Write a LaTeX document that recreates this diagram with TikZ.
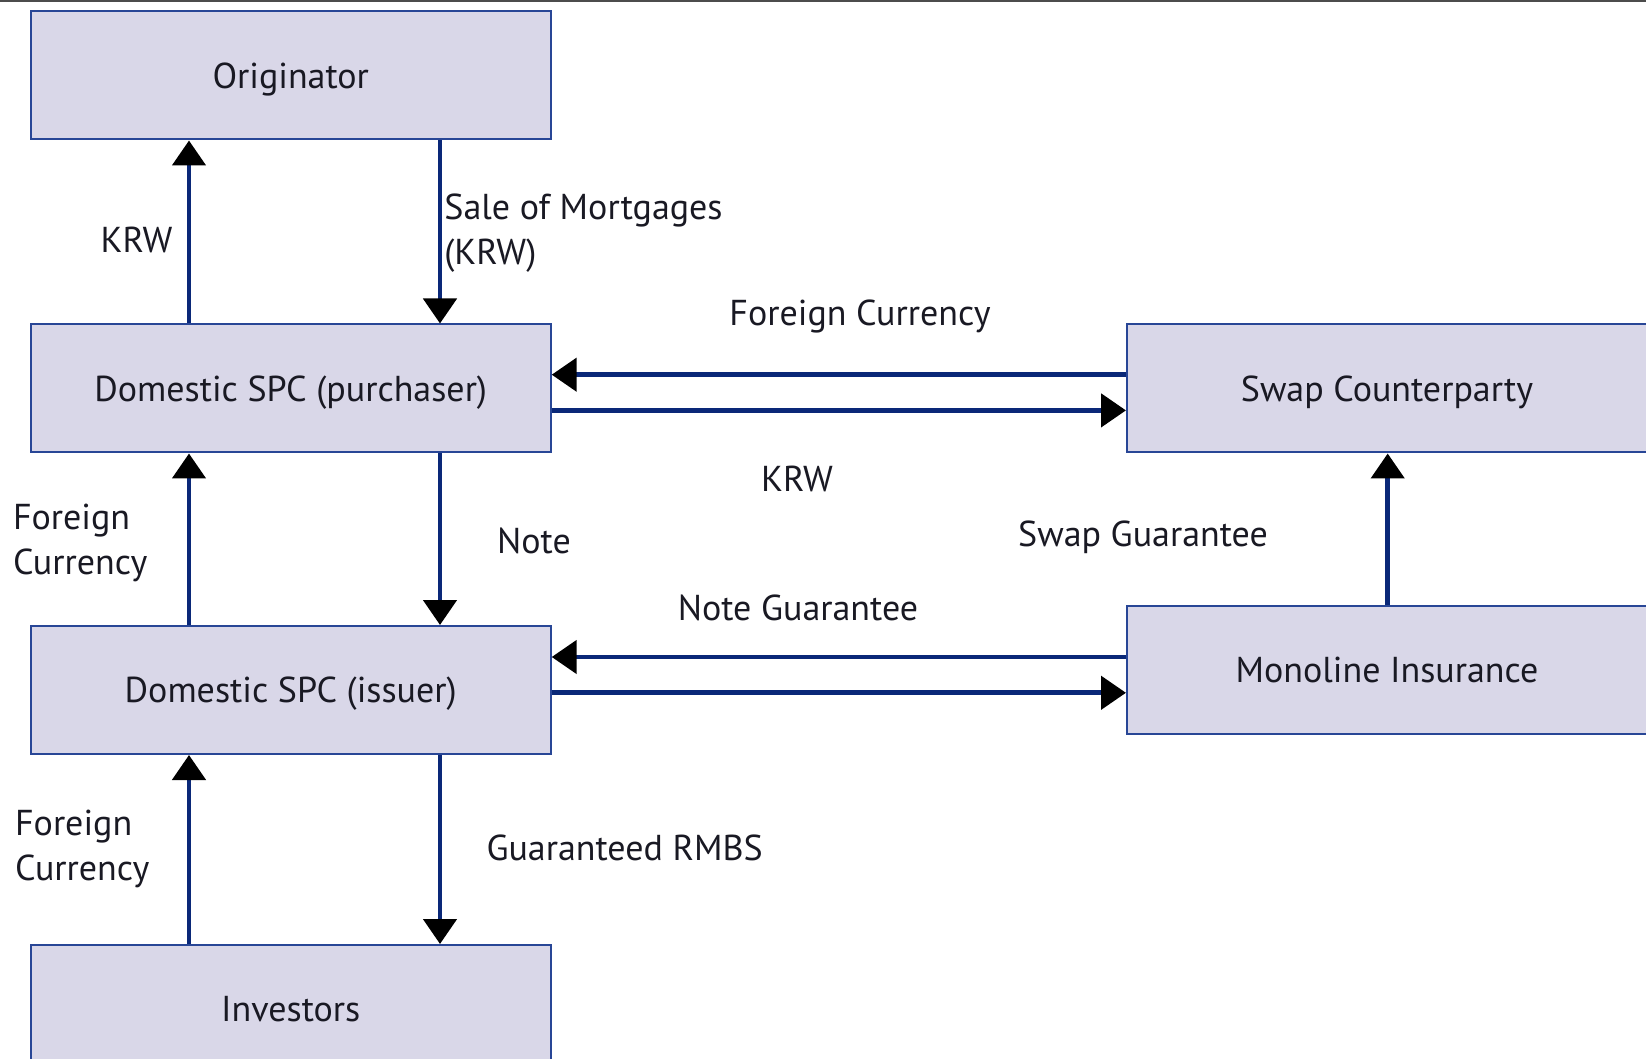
\documentclass[tikz,border=0pt]{standalone}
\usepackage{fontspec}
\setmainfont{PT Sans}
\usepackage{tikz}
\usetikzlibrary{arrows.meta}
\definecolor{boxfill}{RGB}{217,215,232}
\definecolor{boxline}{RGB}{40,70,150}
\definecolor{flowline}{RGB}{10,40,120}
\definecolor{inktext}{RGB}{25,25,35}
\tikzstyle{party}=[draw=boxline,fill=boxfill,line width=1pt,minimum width=260pt,minimum height=64pt,inner sep=0pt,text depth=0pt,text=inktext,font=\fontsize{18}{22.5}\selectfont]
\tikzstyle{flow} = [draw=flowline,line width=2.4pt,-{Triangle[length=12.5pt,width=16.5pt,color=black]}]
\tikzstyle{lbl} = [inner sep=0pt,align=left,text=inktext,font=\fontsize{18}{22.5}\selectfont]

\begin{document}
\begin{tikzpicture}[x=0.5pt,y=-0.5pt]

    \useasboundingbox (0,0) rectangle (1646,1059);
    \clip (0,0) rectangle (1646,1059);
    \fill[black!70] (0,0) rectangle (1646,2);

    % First we draw the boxes
    \foreach \pos/\name/\label in {{(290.7,75.5)/orig/Originator}, {(290.7,388.5)/purch/Domestic SPC (purchaser)}, {(290.7,690)/issuer/Domestic SPC (issuer)}, {(290.7,1009)/invest/Investors}, {(1387,388.5)/swap/Swap Counterparty}, {(1387,670)/mono/Monoline Insurance}}
        \node[party] (\name) at \pos {\label};

    % x and y of the flows
    \coordinate (lx) at (189,0);
    \coordinate (rx) at (440,0);
    \coordinate (sx) at (1387.7,0);
    \coordinate (fcy) at (0,374.7);
    \coordinate (kry) at (0,410.4);
    \coordinate (ngy) at (0,657);
    \coordinate (gry) at (0,692.8);

    % Connect boxes with flows
    \foreach \source/\dest/\x in {purch.north/orig.south/lx, orig.south/purch.north/rx, purch.south/issuer.north/rx, issuer.north/purch.south/lx, issuer.south/invest.north/rx, invest.north/issuer.south/lx, mono.north/swap.south/sx}
        \draw[flow] (\source -| \x) -- (\dest -| \x);
    \foreach \source/\dest/\y in {swap.west/purch.east/fcy, purch.east/swap.west/kry, mono.west/issuer.east/ngy, issuer.east/mono.west/gry}
        \draw[flow] (\source |- \y) -- (\dest |- \y);

    % Labels of the flows
    \node[lbl] (krwup) at (136.5,240) {KRW};
    \node[lbl,anchor=west] (sale) at (444,233.5) {Sale of Mortgages\\(KRW)};
    \node[lbl] (fcswap) at (860,317) {Foreign Currency};
    \node[lbl] (krwswap) at (797,478.6) {KRW};
    \node[lbl,anchor=west] (fcpurch) at (12.6,543) {Foreign\\Currency};
    \node[lbl] (note) at (534,540.5) {Note};
    \node[lbl] (swapg) at (1143,537) {Swap Guarantee};
    \node[lbl] (noteg) at (798,607.7) {Note Guarantee};
    \node[lbl,anchor=west] (fcinv) at (14.7,848.5) {Foreign\\Currency};
    \node[lbl] (rmbs) at (624.6,848) {Guaranteed RMBS};

\end{tikzpicture}
\end{document}
